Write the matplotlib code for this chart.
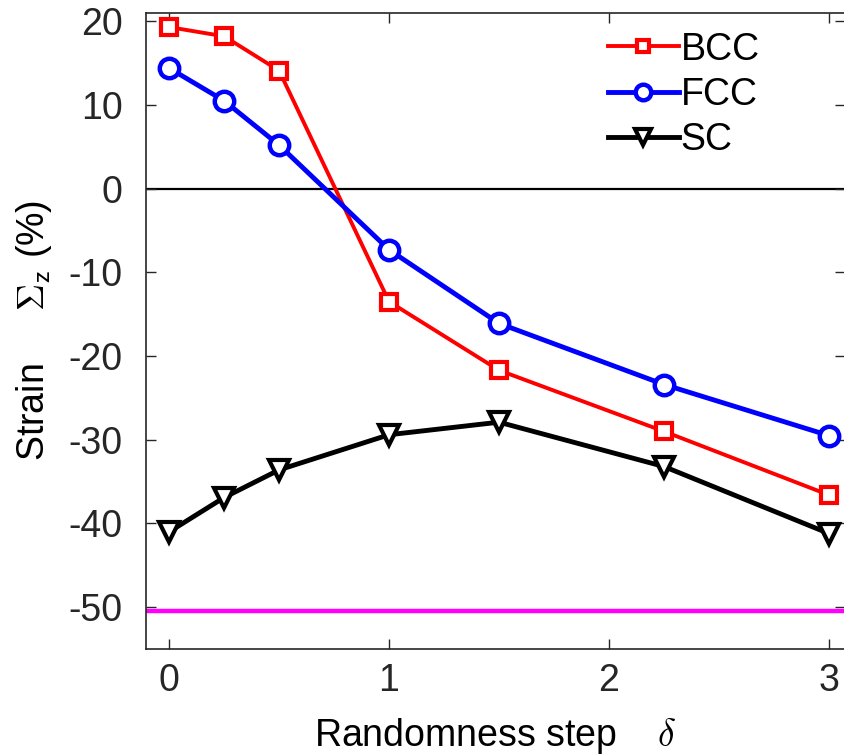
import numpy as np
import matplotlib.pyplot as plt

plt.rcParams['font.family'] = ['Liberation Sans', 'DejaVu Sans']
plt.rcParams['mathtext.fontset'] = 'cm'
plt.rcParams['axes.unicode_minus'] = False

delta = [0, 0.25, 0.5, 1, 1.5, 2.25, 3]
bcc = [19.3, 18.2, 14.1, -13.5, -21.7, -29.0, -36.6]
fcc = [14.4, 10.5, 5.2, -7.3, -16.1, -23.4, -29.5]
sc = [-41.0, -36.9, -33.6, -29.4, -27.9, -33.2, -41.2]
limit = -50.4

fig = plt.figure(figsize=(8.45, 7.56), dpi=100)
ax = fig.add_axes([0.1728, 0.1415, 0.8272, 0.8415])

ax.axhline(0, color='black', lw=1.6, zorder=1)
ax.axhline(limit, color='#ff00ff', lw=3.2, zorder=1)

ax.plot(delta, bcc, '-s', color='red', lw=2.8, ms=11, mew=3,
        mfc='white', label='BCC', zorder=3)
ax.plot(delta, fcc, '-o', color='blue', lw=3.5, ms=14, mew=3.2,
        mfc='white', label='FCC', zorder=3)
ax.plot(delta, sc, '-v', color='black', lw=3.5, ms=15, mew=3,
        mfc='white', label='SC', zorder=3)

ax.set_xlim(-0.105, 3.073)
ax.set_ylim(-55, 21)
ax.set_xticks([0, 1, 2, 3])
ax.set_yticks([-50, -40, -30, -20, -10, 0, 10, 20])

ax.tick_params(direction='in', length=7, width=1, colors='#262626',
               labelsize=27, top=True, right=True)
ax.tick_params(axis='x', pad=10)
ax.tick_params(axis='y', pad=17)
for s in ax.spines.values():
    s.set_color('#262626')
    s.set_linewidth(1.2)

ax.set_xlabel(r'Randomness step    $\delta$', fontsize=27, labelpad=12)
ax.set_ylabel(r'Strain     $\Sigma_{\mathsf{z}}$ (%)', fontsize=27, labelpad=10)

ax.legend(loc='upper right', bbox_to_anchor=(0.905, 1.0), frameon=False,
          fontsize=27, handlelength=1.9, handletextpad=0.05,
          labelspacing=0.25, borderaxespad=0.1, markerscale=0.8)

fig.savefig('out.png', dpi=100)
